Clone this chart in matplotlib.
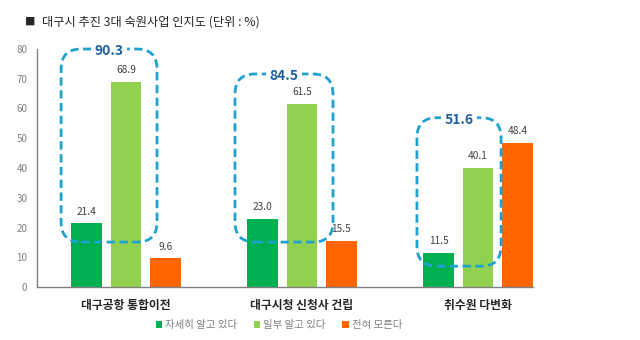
import matplotlib
matplotlib.use("Agg")
import matplotlib.pyplot as plt
from matplotlib.patches import FancyBboxPatch
from matplotlib.transforms import IdentityTransform
import numpy as np

plt.rcParams['font.family'] = ['Noto Sans CJK KR', 'DejaVu Sans']

categories = ["대구공항 통합이전", "대구시청 신청사 건립", "취수원 다변화"]
series_names = ["자세히 알고 있다", "일부 알고 있다", "전혀 모른다"]
detail = [21.4, 23.0, 11.5]
partial = [68.9, 61.5, 40.1]
unknown = [9.6, 15.5, 48.4]
totals = ["90.3", "84.5", "51.6"]
yticks = [0, 10, 20, 30, 40, 50, 60, 70, 80]

colors = ["#00AF50", "#92D050", "#FF6600"]

DPI = 100
fig = plt.figure(figsize=(6.4, 3.4), dpi=DPI)
ax = fig.add_axes([37/640, 1-287/340, (533-37)/640, (287-49)/340])

x = np.arange(len(categories))
w = 0.172
off = 0.224
for i, (vals, c, name) in enumerate(zip([detail, partial, unknown], colors, series_names)):
    bars = ax.bar(x + (i-1)*off, vals, w, color=c, label=name, zorder=2)
    for b, v in zip(bars, vals):
        ax.text(b.get_x()+b.get_width()/2, v+2.2, f"{v:.1f}", ha='center', va='bottom',
                fontsize=7.3, color='#404040', zorder=5)

ax.set_xlim(-0.506, 2.3125)
ax.set_ylim(0, 80)
ax.set_yticks(yticks)
ax.set_yticklabels([str(t) for t in yticks], fontsize=7, color='#7f7f7f')
ax.set_xticks(x)
ax.set_xticklabels(categories, fontsize=8.5, fontweight='bold', color='#262626')
ax.tick_params(axis='both', length=0)
ax.tick_params(axis='y', pad=7)
ax.tick_params(axis='x', pad=9)
for s in ['top', 'right']:
    ax.spines[s].set_visible(False)
for s in ['left', 'bottom']:
    ax.spines[s].set_color('#808080')
    ax.spines[s].set_linewidth(1.0)

# dashed rounded boxes (data-coord extents)
boxes = [(-0.369, 0.176, 15.1, 80.0), (-0.381, 0.176, 15.1, 71.6), (-0.347, 0.131, 7.0, 56.9)]
fig.canvas.draw()
for gi, (bx0, bx1, by0, by1) in enumerate(boxes):
    p0 = ax.transData.transform((x[gi]+bx0, by0))
    p1 = ax.transData.transform((x[gi]+bx1, by1))
    patch = FancyBboxPatch((p0[0], p0[1]), p1[0]-p0[0], p1[1]-p0[1],
                           boxstyle="round,pad=0,rounding_size=20",
                           transform=IdentityTransform(), fill=False,
                           edgecolor='#1FA2D0', linewidth=2.0,
                           linestyle=(0, (3, 1.6)), zorder=4, clip_on=False)
    ax.add_patch(patch)
    cx = x[gi] + (bx0+bx1)/2
    ax.text(cx, by1 - 0.8, totals[gi], ha='center', va='center', fontsize=10,
            fontweight='bold', color='#1F5F9E', zorder=6, clip_on=False,
            bbox=dict(facecolor='white', edgecolor='none', pad=2.6))

fig.text(25/640, 1-22/340, "■", fontsize=7.5, color='#262626', va='center', ha='left')
fig.text(42/640, 1-22/340, "대구시 추진 3대 숙원사업 인지도 (단위 : %)", fontsize=8.8,
         color='#262626', va='center', ha='left')

leg = fig.legend(loc='center', bbox_to_anchor=(279/640, 1-325/340), ncol=3, frameon=False,
                 fontsize=7.5, handlelength=0.6, handleheight=0.6, handletextpad=0.3,
                 columnspacing=1.6, labelcolor='#7f7f7f')

fig.savefig("out.png", dpi=DPI)
